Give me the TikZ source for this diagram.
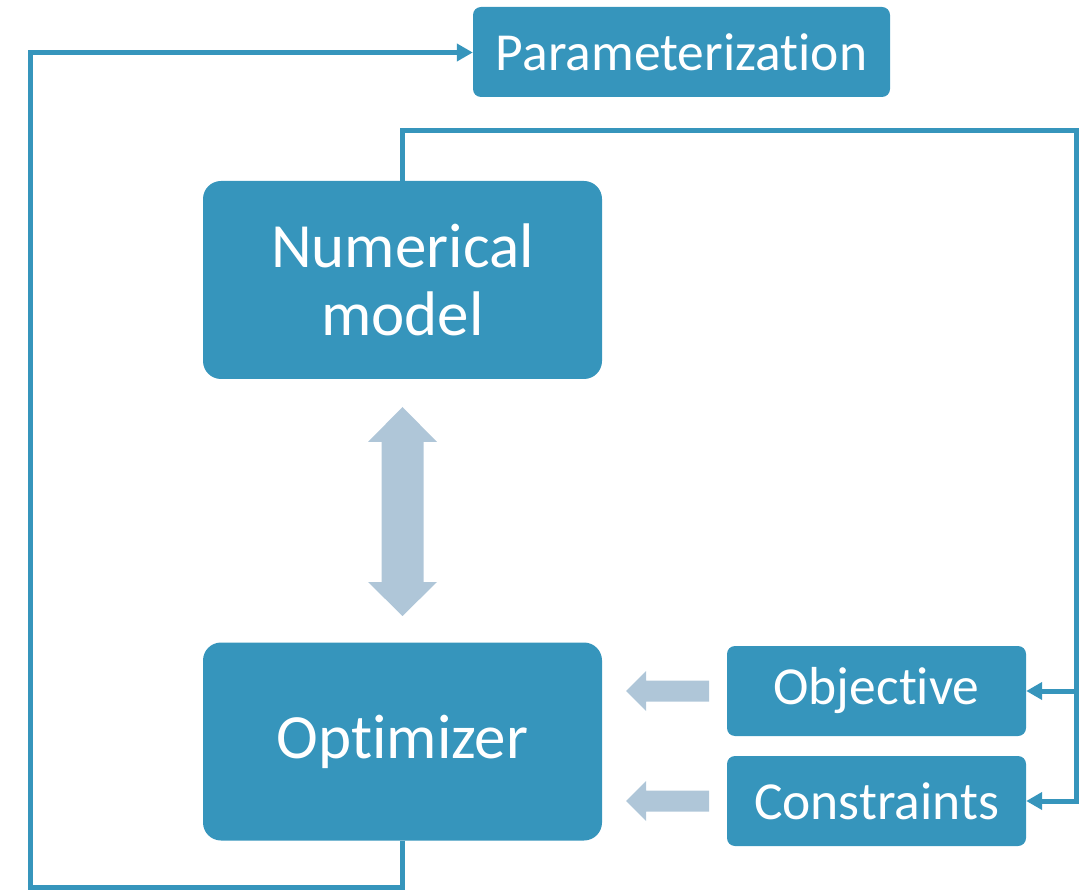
\documentclass[tikz,border=0pt]{standalone}
\usepackage{fontspec}
\setmainfont[Ligatures=NoCommon]{Carlito}
\usetikzlibrary{arrows.meta}
\definecolor{boxblue}{RGB}{54,149,188}
\definecolor{paleblue}{RGB}{175,198,216}
\begin{document}
\begin{tikzpicture}[x=1pt,y=-1pt,
  block/.style={fill=boxblue,text=white,rounded corners=18pt,inner sep=0pt,align=center,
    minimum width=399pt,minimum height=198pt,font=\fontsize{63}{68}\selectfont},
  tag/.style={fill=boxblue,text=white,rounded corners=8pt,inner sep=0pt,
    minimum width=299pt,minimum height=90pt,font=\fontsize{53.5}{60}\selectfont},
  link/.style={boxblue,line width=5pt,-{Triangle[length=16pt,width=17pt]}},
  flow/.style={fill=paleblue}]
\useasboundingbox (0,0) rectangle (1082,890);

\node[tag,minimum width=417pt] (param) at (681.5,52) {Parameterization};
\node[block] (model) at (402.5,280) {Numerical\\model};
\node[block] (opt) at (402.5,741.5) {Optimizer};
\node[tag] (obj) at (876.5,691) {Objective};
\node[tag] (con) at (876.5,801) {Constraints};

% loop back to the parameterization
\draw[link] (opt.south) -- (402.5,887) -| (30.5,52.5) -- (param.west |- 0,52.5);
% model outputs feed objective and constraints
\draw[link] (model.north) |- (1076,131) |- (con.east);
\draw[link] (1076,691) -- (obj.east);

% exchange between model and optimizer
\fill[flow] (402.5,407) -- (437,442) -- (423.5,442) -- (423.5,582) -- (437,582) -- (402.5,616)
  -- (368,582) -- (381.5,582) -- (381.5,442) -- (368,442) -- cycle;
\foreach \y in {691,801}
  \fill[flow] (626,\y) -- (646,\y-20) -- (646,\y-10.5) -- (709,\y-10.5) -- (709,\y+10.5)
    -- (646,\y+10.5) -- (646,\y+20) -- cycle;
\end{tikzpicture}
\end{document}
